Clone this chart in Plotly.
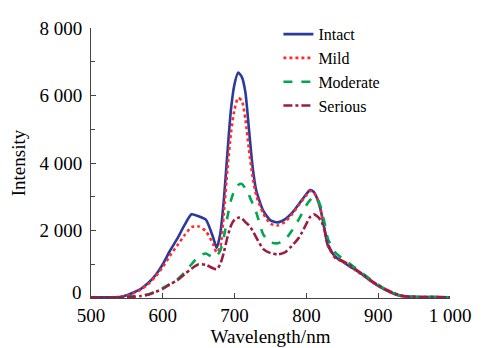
import plotly.graph_objects as go

wavelength = [500, 520, 540, 550, 560, 570, 580, 590, 600, 610, 620, 630, 640, 650, 660, 670, 675, 680,
              685, 690, 695, 700, 705, 710, 715, 720, 725, 730, 740, 750, 760, 770, 780, 790, 800, 805,
              810, 815, 820, 825, 830, 840, 850, 860, 870, 880, 890, 900, 910, 920, 930, 940, 960, 980, 1000]

intact = [20, 20, 30, 80, 170, 280, 450, 680, 1000, 1400, 1750, 2150, 2480, 2420, 2320, 1800, 1480, 1900,
          2900, 4300, 5600, 6350, 6680, 6550, 6100, 5000, 3900, 3200, 2580, 2300, 2240, 2330, 2520, 2800, 3080, 3200,
          3150, 2950, 2600, 2050, 1550, 1230, 1080, 940, 810, 660, 500, 360, 240, 140, 70, 40, 30, 25, 20]

mild = [20, 20, 30, 70, 150, 260, 420, 640, 920, 1250, 1550, 1850, 2100, 2120, 1980, 1600, 1350, 1500,
        2500, 3800, 4900, 5600, 5930, 5850, 5300, 4400, 3600, 3050, 2500, 2200, 2150, 2250, 2480, 2770, 3050, 3170,
        3130, 2950, 2600, 2050, 1550, 1200, 1080, 950, 800, 650, 500, 360, 240, 140, 70, 40, 30, 25, 20]

moderate = [20, 20, 20, 30, 40, 70, 110, 200, 300, 420, 550, 750, 1000, 1240, 1320, 1200, 1250, 1400,
            1800, 2400, 2900, 3200, 3350, 3380, 3250, 3050, 2800, 2550, 1880, 1650, 1620, 1720, 2000, 2350, 2750, 2900,
            3000, 2950, 2700, 2250, 1750, 1350, 1170, 1020, 860, 700, 540, 390, 260, 160, 80, 45, 30, 25, 20]

serious = [20, 20, 20, 30, 40, 60, 100, 180, 270, 400, 520, 700, 870, 1000, 980, 880, 850, 1000,
           1350, 1800, 2150, 2330, 2380, 2360, 2250, 2150, 2000, 1800, 1450, 1330, 1290, 1350, 1550, 1800, 2200, 2400,
           2480, 2420, 2300, 2050, 1600, 1200, 1100, 980, 830, 680, 520, 380, 260, 160, 80, 45, 30, 25, 20]

series_names = ["Intact", "Mild", "Moderate", "Serious"]
series_vals = [intact, mild, moderate, serious]
colors = ["#2b3a9b", "#ff2a2a", "#00a650", "#9c1d3e"]
dashes = ["solid", "dot", "dash", "dashdot"]

x_tickvals = [500, 600, 700, 800, 900, 1000]
x_ticktext = ["500", "600", "700", "800", "900", "1 000"]
y_tickvals = [0, 2000, 4000, 6000, 8000]
y_ticktext = ["", "2 000", "4 000", "6 000", "8 000"]
y_zero_label = "0"

font_family = "Liberation Serif, Times New Roman, serif"

fig = go.Figure()
for name, vals, c, d in zip(series_names, series_vals, colors, dashes):
    fig.add_trace(go.Scatter(x=wavelength, y=vals, name=name, mode="lines",
                             line=dict(color=c, width=2.6, dash=d, shape="spline", smoothing=0.6)))

# the "0" tick label sits a little above the axis, as in the reference
fig.add_annotation(x=0, xref="paper", y=y_tickvals[0], yref="y", text=y_zero_label,
                   showarrow=False, xanchor="right", yanchor="middle", xshift=-7, yshift=6,
                   font=dict(family=font_family, size=19, color="black"))

# page body has an 8px margin, so the figure is drawn 8px in from the window's corner
fig.update_layout(
    width=474, height=340,
    margin=dict(l=83, r=32, t=9, b=50),
    paper_bgcolor="white", plot_bgcolor="white",
    font=dict(family=font_family, size=19, color="black"),
    showlegend=True,
    legend=dict(x=0.522, y=1.04, xanchor="left", yanchor="top",
                font=dict(family=font_family, size=16, color="black"),
                bgcolor="rgba(0,0,0,0)", tracegroupgap=0),
)
fig.update_xaxes(range=[500, 1000], tickvals=x_tickvals, ticktext=x_ticktext,
                 ticks="inside", ticklen=5, tickcolor="#444", showline=True, linecolor="#444",
                 linewidth=1, showgrid=False, zeroline=False,
                 title=dict(text="Wavelength/nm", standoff=0, font=dict(size=19)))
fig.update_yaxes(range=[0, 8000], tickvals=y_tickvals, ticktext=y_ticktext,
                 ticks="inside", ticklen=5, tickcolor="#444", showline=True, linecolor="#444",
                 linewidth=1, showgrid=False, zeroline=False, ticklabelstandoff=4,
                 minor=dict(ticks="inside", ticklen=4, dtick=1000, tickcolor="#444", showgrid=False),
                 title=dict(text="Intensity", standoff=8, font=dict(size=19)))

fig.write_html("out.html")
